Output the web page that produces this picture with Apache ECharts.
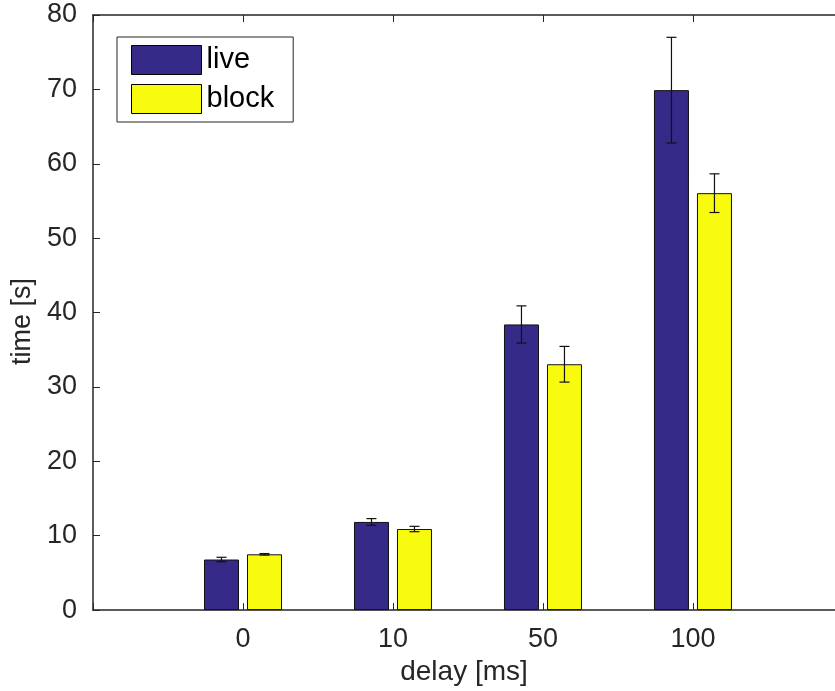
<!DOCTYPE html>
<html>
<head>
<meta charset="utf-8">
<script src="https://cdn.jsdelivr.net/npm/echarts@6/dist/echarts.min.js"></script>
<style>
  html, body { margin: 0; padding: 0; background: #fff; }
  #chart { width: 835px; height: 691px; }
</style>
</head>
<body>
<div id="chart"></div>
<script>
// Delay settings on the x axis
const categories = ['0', '10', '50', '100'];
// Mean completion time [s] per delay
const liveValues = [6.8, 11.85, 38.4, 69.9];
const blockValues = [7.5, 10.9, 33.05, 56.05];
// Half-length of the error bars [s]
const liveErrors = [0.3, 0.45, 2.5, 7.1];
const blockErrors = [0.1, 0.36, 2.4, 2.6];
const yTicks = [0, 10, 20, 30, 40, 50, 60, 70, 80];

const seriesNames = ['live', 'block'];
const colors = ['#352A87', '#F9FB0E'];
const textColor = '#262626';
const fontFamily = '"Liberation Sans", Arial, Helvetica, sans-serif';
const BAR_W = 35;
const BAR_GAP = 8;
const OFFSET = (BAR_W + BAR_GAP) / 2;
// the plot box is cropped on the right: the visible x range ends just before 5
const X_MAX = 4.947;

const chart = echarts.init(document.getElementById('chart'), null, { renderer: 'canvas' });

// bar positions sit at 1..n on a 0..n+1 value axis
const toPairs = vals => vals.map((v, i) => [i + 1, v]);

function errorSeries(vals, errs, sign) {
  return {
    type: 'custom',
    silent: true,
    z: 5,
    data: vals.map((v, i) => [i + 1, v, errs[i]]),
    renderItem: function (params, api) {
      const x = api.value(0), v = api.value(1), e = api.value(2);
      const top = api.coord([x, v + e]);
      const bot = api.coord([x, v - e]);
      const cx = top[0] + sign * OFFSET;
      const cap = 5;
      const style = { stroke: '#111', lineWidth: 1.2 };
      return {
        type: 'group',
        children: [
          { type: 'line', shape: { x1: cx, y1: top[1], x2: cx, y2: bot[1] }, style },
          { type: 'line', shape: { x1: cx - cap, y1: top[1], x2: cx + cap, y2: top[1] }, style },
          { type: 'line', shape: { x1: cx - cap, y1: bot[1], x2: cx + cap, y2: bot[1] }, style }
        ]
      };
    }
  };
}

const axisLineStyle = { color: textColor, width: 1.5 };
const xLabelFormatter = v => (Number.isInteger(v) && v >= 1 && v <= categories.length ? categories[v - 1] : '');

chart.setOption({
  animation: false,
  backgroundColor: '#fff',
  textStyle: { fontFamily: fontFamily, color: textColor },
  grid: { left: 93, top: 15, right: 0, bottom: 80, containLabel: false },
  legend: {
    orient: 'vertical',
    left: 117,
    top: 37,
    padding: [8, 19, 8, 14],
    itemWidth: 70,
    itemHeight: 29,
    itemGap: 9,
    icon: 'rect',
    borderColor: textColor,
    borderWidth: 1,
    borderRadius: 0,
    backgroundColor: '#fff',
    data: seriesNames,
    textStyle: { fontSize: 29, color: '#000', fontFamily: fontFamily },
    itemStyle: { borderColor: '#000', borderWidth: 1 }
  },
  xAxis: [{
    type: 'value',
    min: 0,
    max: X_MAX,
    interval: 1,
    name: 'delay [ms]',
    nameLocation: 'middle',
    nameGap: 47,
    nameTextStyle: { fontSize: 28, color: textColor, fontFamily: fontFamily },
    axisLine: { show: true, lineStyle: axisLineStyle },
    axisTick: { show: true, inside: true, length: 7, lineStyle: { color: textColor } },
    axisLabel: {
      fontSize: 27, color: textColor, margin: 16, fontFamily: fontFamily,
      showMaxLabel: false,
      formatter: xLabelFormatter
    },
    splitLine: { show: false }
  }, {
    type: 'value',
    position: 'top',
    min: 0,
    max: X_MAX,
    interval: 1,
    axisLine: { show: true, lineStyle: axisLineStyle },
    axisTick: { show: true, inside: true, length: 7, lineStyle: { color: textColor } },
    axisLabel: { show: false },
    splitLine: { show: false }
  }],
  yAxis: [{
    type: 'value',
    min: yTicks[0],
    max: yTicks[yTicks.length - 1],
    interval: yTicks[1] - yTicks[0],
    name: 'time [s]',
    nameLocation: 'middle',
    nameGap: 52,
    nameTextStyle: { fontSize: 27, color: textColor, fontFamily: fontFamily, padding: [0, 18, 0, 0] },
    axisLine: { show: true, lineStyle: axisLineStyle },
    axisTick: { show: true, inside: true, length: 7, lineStyle: { color: textColor } },
    axisLabel: { fontSize: 27, color: textColor, margin: 16, fontFamily: fontFamily },
    splitLine: { show: false }
  }],
  series: [
    {
      name: seriesNames[0],
      type: 'bar',
      data: toPairs(liveValues),
      barWidth: BAR_W,
      barGap: (BAR_GAP / BAR_W * 100) + '%',
      itemStyle: { color: colors[0], borderColor: '#111', borderWidth: 1 }
    },
    {
      name: seriesNames[1],
      type: 'bar',
      data: toPairs(blockValues),
      barWidth: BAR_W,
      barGap: (BAR_GAP / BAR_W * 100) + '%',
      itemStyle: { color: colors[1], borderColor: '#111', borderWidth: 1 }
    },
    errorSeries(liveValues, liveErrors, -1),
    errorSeries(blockValues, blockErrors, 1)
  ]
});
</script>
</body>
</html>
